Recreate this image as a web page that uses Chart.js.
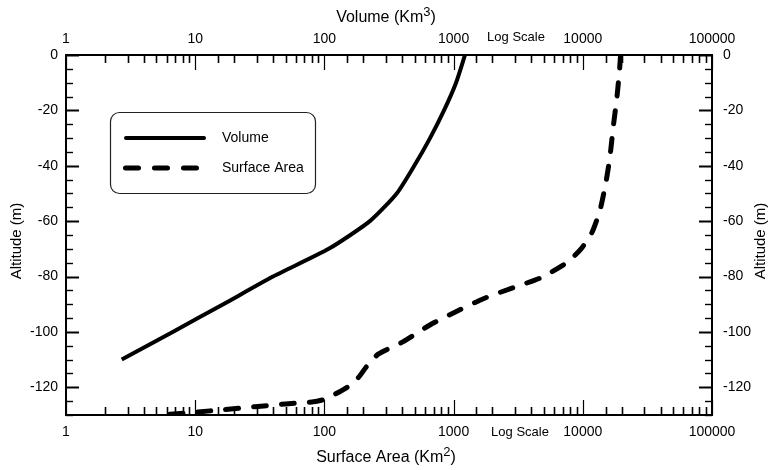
<!DOCTYPE html>
<html>
<head>
<meta charset="utf-8">
<script src="https://cdn.jsdelivr.net/npm/chart.js@4"></script>
<style>
  html, body { margin: 0; padding: 0; background: #fff; }
  #wrap { width: 772px; height: 470px; }
</style>
</head>
<body>
<div id="wrap"><canvas id="c" width="772" height="470"></canvas></div>
<script>
// Axis tick labels
const altitudeTickValues = [0, -20, -40, -60, -80, -100, -120];
const logTickValues = [1, 10, 100, 1000, 10000, 100000];
const logTickLabels = ['1', '10', '100', '1000', '10000', '100000'];

// Volume (Km3) by altitude (m)
const volumeAltitude = [0, -10, -20, -30, -40, -50, -60, -70, -80, -90, -100, -110];
const volumeKm3 = [1225, 1045, 843, 657, 496, 363, 225, 108, 40, 16.5, 6.7, 2.7];

// Surface area (Km2) by altitude (m)
const areaAltitude = [0, -6, -16, -26, -37, -46, -56, -64, -70, -75, -80.5, -84, -88, -92.5,
  -97.5, -103.5, -108, -112.5, -116.5, -120, -123, -124.5, -125.3, -126, -127, -128, -129, -130];
const areaKm2 = [19600, 19200, 18300, 17200, 16200, 15100, 13600, 11800, 9700, 7500, 4700, 2900, 1700, 1060,
  656, 408, 261, 212, 183, 150, 115, 98, 80, 50, 29, 17, 10, 5.2];

const FONT = '"Liberation Sans", Arial, Helvetica, sans-serif';

function isDecade(v) {
  return logTickValues.some(d => Math.abs(v - d) < d * 1e-6);
}
function logLabel(v) {
  const i = logTickValues.findIndex(d => Math.abs(v - d) < d * 1e-6);
  return i >= 0 ? logTickLabels[i] : '';
}
function altLabel(v) {
  return altitudeTickValues.includes(v) ? String(v) : '';
}

// Frame, inward tick marks, titles and legend box
const decorations = {
  id: 'decorations',
  afterDatasetsDraw(chart) {
    const { ctx, chartArea: a, scales } = chart;
    ctx.save();
    ctx.strokeStyle = '#000';
    ctx.lineCap = 'butt';

    // log-axis tick marks pointing into the plot
    ['xTop', 'xBottom'].forEach(id => {
      const s = scales[id];
      const top = id === 'xTop';
      s.ticks.forEach(t => {
        const px = Math.round(s.getPixelForValue(t.value)) + 0.5;
        const major = isDecade(t.value);
        const len = major ? 15 : 8;
        ctx.lineWidth = major ? 1.2 : 1.6;
        ctx.beginPath();
        if (top) { ctx.moveTo(px, a.top); ctx.lineTo(px, a.top + len); }
        else { ctx.moveTo(px, a.bottom); ctx.lineTo(px, a.bottom - len); }
        ctx.stroke();
      });
    });

    // altitude tick marks pointing into the plot
    ['yLeft', 'yRight'].forEach(id => {
      const s = scales[id];
      const left = id === 'yLeft';
      s.ticks.forEach(t => {
        const py = Math.round(s.getPixelForValue(t.value)) + 0.5;
        const major = t.value % 20 === 0;
        const len = major ? 13 : 7;
        ctx.lineWidth = major ? 2 : 1.4;
        ctx.beginPath();
        if (left) { ctx.moveTo(a.left, py); ctx.lineTo(a.left + len, py); }
        else { ctx.moveTo(a.right, py); ctx.lineTo(a.right - len, py); }
        ctx.stroke();
      });
    });

    // plot frame
    ctx.lineWidth = 2;
    ctx.strokeRect(a.left, a.top, a.right - a.left, a.bottom - a.top);

    // axis titles
    ctx.fillStyle = '#000';
    ctx.textBaseline = 'middle';
    const supTitle = (main, sup, tail, cx, cy, size) => {
      ctx.font = size + 'px ' + FONT;
      const w1 = ctx.measureText(main).width;
      const w3 = ctx.measureText(tail).width;
      ctx.font = Math.round(size * 0.8) + 'px ' + FONT;
      const w2 = ctx.measureText(sup).width;
      let x = cx - (w1 + w2 + w3) / 2;
      ctx.textAlign = 'left';
      ctx.font = size + 'px ' + FONT;
      ctx.fillText(main, x, cy);
      x += w1;
      ctx.font = Math.round(size * 0.8) + 'px ' + FONT;
      ctx.fillText(sup, x, cy - size * 0.35);
      x += w2;
      ctx.font = size + 'px ' + FONT;
      ctx.fillText(tail, x, cy);
    };
    supTitle('Volume (Km', '3', ')', 386, 18, 16);
    supTitle('Surface Area (Km', '2', ')', 386, 458, 16);

    ctx.font = '13px ' + FONT;
    ctx.textAlign = 'center';
    ctx.fillText('Log Scale', 516, 37);
    ctx.fillText('Log Scale', 520, 432);

    const midY = (a.top + a.bottom) / 2 + 6;
    ctx.font = '15px ' + FONT;
    [[17, midY], [761, midY]].forEach(([x, y]) => {
      ctx.save();
      ctx.translate(x, y);
      ctx.rotate(-Math.PI / 2);
      ctx.textAlign = 'center';
      ctx.fillText('Altitude (m)', 0, 0);
      ctx.restore();
    });

    // legend box
    const bx = 110, by = 112, bw = 205, bh = 81, r = 9;
    ctx.lineWidth = 1.2;
    ctx.strokeStyle = '#222';
    ctx.beginPath();
    ctx.roundRect(bx + 0.5, by + 0.5, bw, bh, r);
    ctx.stroke();

    ctx.strokeStyle = '#000';
    ctx.lineCap = 'round';
    ctx.lineWidth = 4;
    ctx.beginPath();
    ctx.moveTo(126, 138);
    ctx.lineTo(204, 138);
    ctx.stroke();

    ctx.lineWidth = 5;
    ctx.setLineDash([13, 16]);
    ctx.beginPath();
    ctx.moveTo(125.5, 168);
    ctx.lineTo(199, 168);
    ctx.stroke();
    ctx.setLineDash([]);

    ctx.font = '14px ' + FONT;
    ctx.textAlign = 'left';
    ctx.fillText('Volume', 222, 138);
    ctx.fillText('Surface Area', 222, 168);
    ctx.restore();
  }
};

const tickFont = { family: FONT, size: 14 };

new Chart(document.getElementById('c'), {
  type: 'line',
  data: {
    datasets: [
      {
        label: 'Volume',
        data: volumeKm3.map((v, i) => ({ x: v, y: volumeAltitude[i] })),
        xAxisID: 'xTop',
        yAxisID: 'yLeft',
        borderColor: '#000',
        borderWidth: 4,
        pointRadius: 0,
        tension: 0.2,
        fill: false
      },
      {
        label: 'Surface Area',
        data: areaKm2.map((v, i) => ({ x: v, y: areaAltitude[i] })),
        xAxisID: 'xBottom',
        yAxisID: 'yLeft',
        borderColor: '#000',
        borderWidth: 5,
        borderDash: [13, 15],
        borderCapStyle: 'round',
        pointRadius: 0,
        tension: 0.2,
        fill: false
      }
    ]
  },
  options: {
    responsive: false,
    animation: false,
    events: [],
    layout: { padding: 0 },
    plugins: { legend: { display: false }, tooltip: { enabled: false } },
    scales: {
      xTop: {
        type: 'logarithmic', position: 'top', min: 1, max: 100000,
        grid: { display: false, drawTicks: false }, border: { display: false },
        ticks: { autoSkip: false, maxRotation: 0, minRotation: 0, padding: 7, color: '#000', font: tickFont, callback: v => logLabel(v) },
        afterFit: s => { s.height = 55; }
      },
      xBottom: {
        type: 'logarithmic', position: 'bottom', min: 1, max: 100000,
        grid: { display: false, drawTicks: false }, border: { display: false },
        ticks: { autoSkip: false, maxRotation: 0, minRotation: 0, padding: 9, color: '#000', font: tickFont, callback: v => logLabel(v) },
        afterFit: s => { s.height = 55; }
      },
      yLeft: {
        type: 'linear', position: 'left', min: -130, max: 0,
        grid: { display: false, drawTicks: false }, border: { display: false },
        ticks: { stepSize: 5, autoSkip: false, padding: 8, color: '#000', font: tickFont, callback: v => altLabel(v) },
        afterFit: s => { s.width = 66; }
      },
      yRight: {
        type: 'linear', position: 'right', min: -130, max: 0,
        grid: { display: false, drawTicks: false }, border: { display: false },
        ticks: { stepSize: 5, autoSkip: false, padding: 11, color: '#000', font: tickFont, callback: v => altLabel(v) },
        afterFit: s => { s.width = 60; }
      }
    }
  },
  plugins: [decorations]
});
</script>
</body>
</html>
